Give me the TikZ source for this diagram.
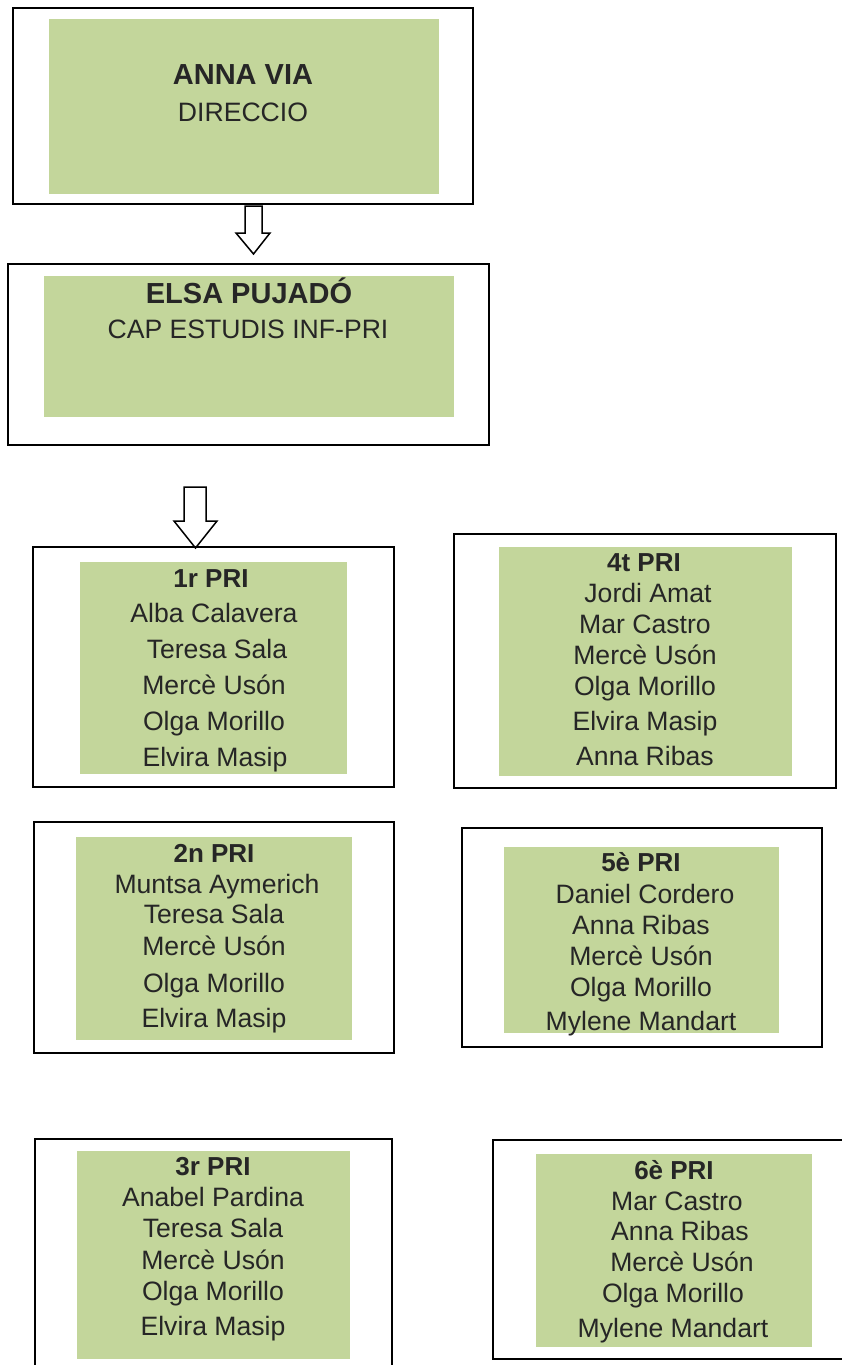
\documentclass[tikz,border=0pt]{standalone}
\usepackage{fontspec}
\setmainfont{Liberation Sans}
\definecolor{gfill}{HTML}{C3D69B}
\definecolor{txt}{HTML}{262626}
\begin{document}
\begin{tikzpicture}[x=1pt,y=-1pt,
 outer/.style={draw=black,line width=1.5pt},
 inner/.style={fill=gfill},
 lbl/.style={text=txt,font=\fontsize{26.6}{30}\selectfont,inner sep=0pt,text height=19pt,text depth=0pt,anchor=center},
 hd/.style={lbl,font=\bfseries\fontsize{26}{30}\selectfont},
 top/.style={lbl,font=\bfseries\fontsize{29}{32}\selectfont,text height=20.5pt},
 blk/.style={draw=black,line width=1.5pt,fill=white,line join=miter}]
\useasboundingbox (0,0) rectangle (842,1365);
% top box
\draw[outer] (13,8) rectangle (473,204);
\fill[inner] (49,19) rectangle (439,194);
\node[top] (a1) at (243,74) {ANNA VIA};
\node[lbl] (a2) at (243,112) {DIRECCIO};
% second box
\draw[outer] (8,264) rectangle (489,445);
\fill[inner] (44,276) rectangle (454,417);
\node[top] (e1) at (249,293) {ELSA PUJADÓ};
\node[lbl] (e2) at (248,329) {CAP ESTUDIS INF-PRI};
% arrows
\draw[blk] (245,206) -- (262,206) -- (262,233) -- (270,233) -- (253.5,254) -- (236,233) -- (245,233) -- cycle;
\draw[blk] (184,487) -- (206,487) -- (206,521) -- (217,521) -- (195.5,548) -- (174,521) -- (184,521) -- cycle;
% 1r PRI
\draw[outer] (33,547) rectangle (394,787);
\fill[inner] (80,562) rectangle (347,774);
\node[hd] (p1h) at (211,578) {1r PRI};
\node[lbl] (p1a) at (214,613) {Alba Calavera};
\node[lbl] (p1b) at (217,649) {Teresa Sala};
\node[lbl] (p1c) at (214,685) {Mercè Usón};
\node[lbl] (p1d) at (214,721) {Olga Morillo};
\node[lbl] (p1e) at (215,757) {Elvira Masip};
% 4t PRI
\draw[outer] (454,534) rectangle (836,788);
\fill[inner] (499,547) rectangle (792,776);
\node[hd] (p4h) at (644,562) {4t PRI};
\node[lbl] (p4a) at (648,593) {Jordi Amat};
\node[lbl] (p4b) at (645,624) {Mar Castro};
\node[lbl] (p4c) at (645,655) {Mercè Usón};
\node[lbl] (p4d) at (645,686) {Olga Morillo};
\node[lbl] (p4e) at (645,721) {Elvira Masip};
\node[lbl] (p4f) at (645,756) {Anna Ribas};
% 2n PRI
\draw[outer] (34,822) rectangle (394,1053);
\fill[inner] (76,837) rectangle (352,1040);
\node[hd] (p2h) at (214,853) {2n PRI};
\node[lbl] (p2a) at (217,884) {Muntsa Aymerich};
\node[lbl] (p2b) at (214,914) {Teresa Sala};
\node[lbl] (p2c) at (214,946) {Mercè Usón};
\node[lbl] (p2d) at (214,983) {Olga Morillo};
\node[lbl] (p2e) at (214,1018) {Elvira Masip};
% 5è PRI
\draw[outer] (462,828) rectangle (822,1047);
\fill[inner] (504,847) rectangle (779,1033);
\node[hd] (p5h) at (641,862) {5è PRI};
\node[lbl] (p5a) at (645,894) {Daniel Cordero};
\node[lbl] (p5b) at (641,925) {Anna Ribas};
\node[lbl] (p5c) at (641,956) {Mercè Usón};
\node[lbl] (p5d) at (641,987) {Olga Morillo};
\node[lbl] (p5e) at (641,1021) {Mylene Mandart};
% 3r PRI
\draw[outer] (35,1375) -- (35,1139) -- (392,1139) -- (392,1375);
\fill[inner] (77,1151) rectangle (350,1359);
\node[hd] (p3h) at (213,1166) {3r PRI};
\node[lbl] (p3a) at (213,1197) {Anabel Pardina};
\node[lbl] (p3b) at (213,1228) {Teresa Sala};
\node[lbl] (p3c) at (213,1260) {Mercè Usón};
\node[lbl] (p3d) at (213,1291) {Olga Morillo};
\node[lbl] (p3e) at (213,1326) {Elvira Masip};
% 6è PRI
\draw[outer] (850,1140) -- (493,1140) -- (493,1359) -- (850,1359);
\fill[inner] (536,1154) rectangle (812,1347);
\node[hd] (p6h) at (674,1170) {6è PRI};
\node[lbl] (p6a) at (677,1201) {Mar Castro};
\node[lbl] (p6b) at (680,1231) {Anna Ribas};
\node[lbl] (p6c) at (682,1262) {Mercè Usón};
\node[lbl] (p6d) at (673,1293) {Olga Morillo};
\node[lbl] (p6e) at (673,1328) {Mylene Mandart};
\end{tikzpicture}
\end{document}
